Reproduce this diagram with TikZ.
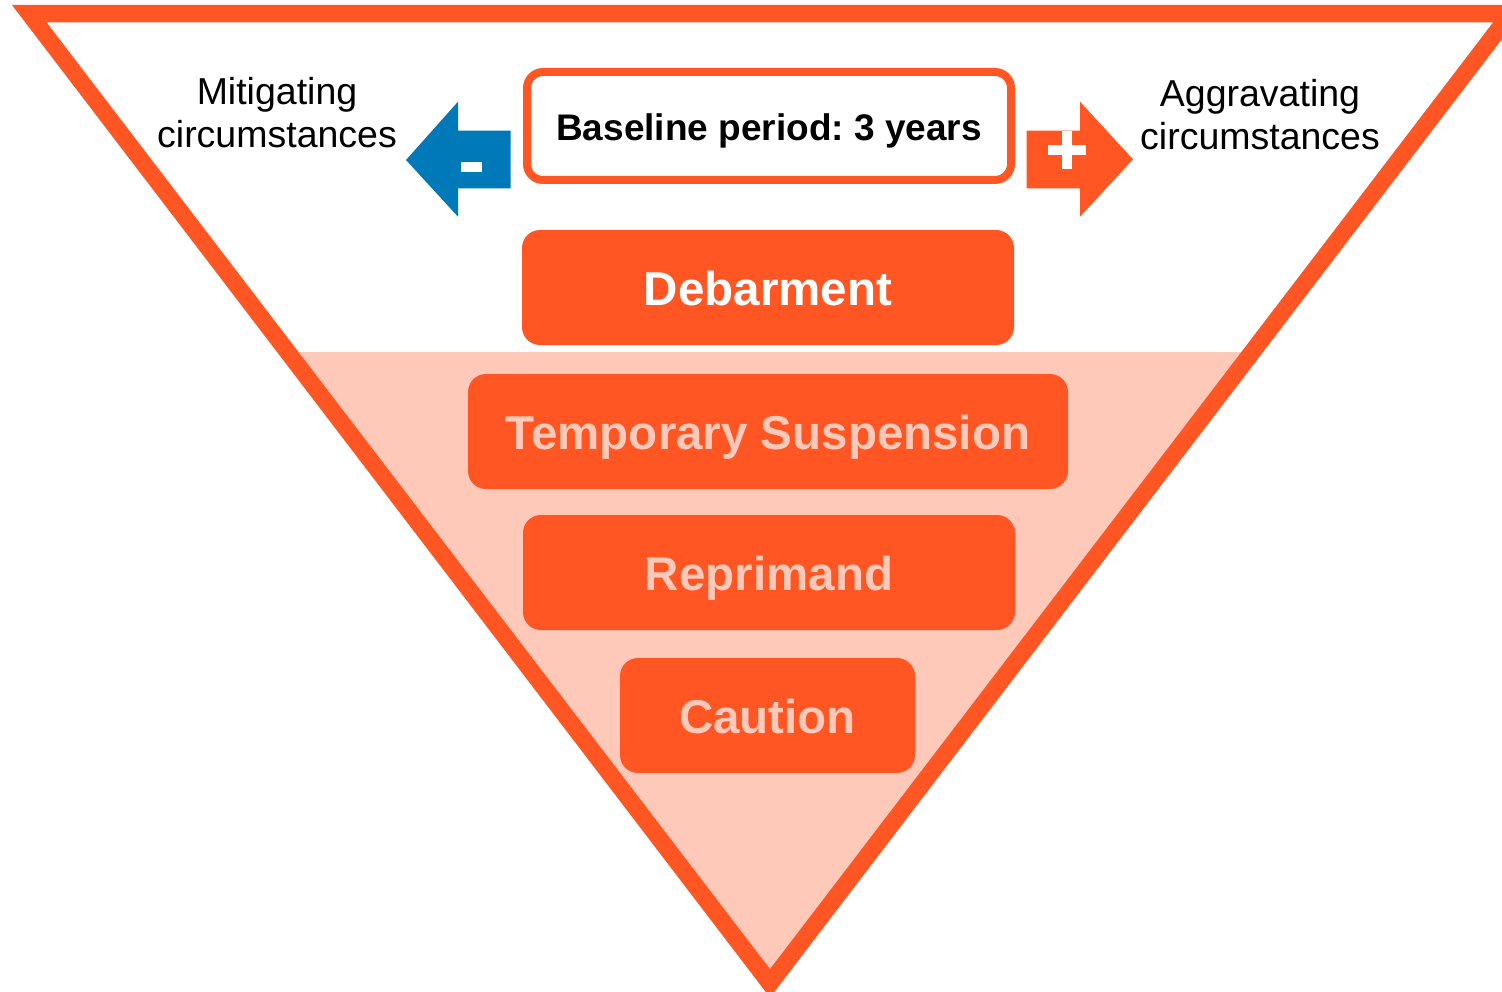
\documentclass[tikz,border=0pt]{standalone}
\usepackage{fontspec}
\setmainfont{Liberation Sans}
\frenchspacing
\definecolor{orng}{HTML}{FF5623}
\definecolor{pinkband}{HTML}{FEC9B9}
\definecolor{blu}{HTML}{0079B8}
\begin{document}
\begin{tikzpicture}[x=1pt,y=-1pt,
  level/.style={fill=orng, rounded corners=18pt, inner sep=0pt, minimum height=115pt,
     text depth=0pt, text height=36pt,
     font=\fontsize{47.5}{56}\selectfont\bfseries, text=pinkband},
  sidetext/.style={align=center, font=\fontsize{37.5}{43}\selectfont, text=black, inner sep=0pt}]
\useasboundingbox (0,0) rectangle (1502,992);
\fill[white] (0,0) rectangle (1502,992);
% pink band
\fill[pinkband] (298.5,352) -- (1241.3,352) -- (770,969) -- cycle;
% triangle frame
\fill[orng, even odd rule] (12,5) -- (1528,5) -- (770,997.5) -- cycle
   (46.7,22.5) -- (1493,22.5) -- (770,969) -- cycle;
% baseline box
\node[draw=orng, line width=8pt, fill=white, rounded corners=16pt, inner sep=0pt,
  minimum width=484pt, minimum height=108pt, text depth=0pt, text height=29pt,
  font=\fontsize{37}{44}\selectfont\bfseries] (base) at (769,126) {Baseline period: 3 years};
% levels
\node[level, minimum width=492pt, text=white] (deb) at (768,287.5) {Debarment};
\node[level, minimum width=600pt] (temp) at (768,431.5) {Temporary Suspension};
\node[level, minimum width=492pt] (rep) at (769,572.5) {Reprimand};
\node[level, minimum width=295pt] (cau) at (767.5,715.5) {Caution};
% side texts
\node[sidetext] (mit) at (277,113) {Mitigating\\circumstances};
\node[sidetext] (agg) at (1260,115) {Aggravating\\circumstances};
% blue arrow (minus)
\fill[blu] (510.7,130.7) -- (458,130.7) -- (458,101.7) -- (406,160) -- (458,216.7)
   -- (458,188.3) -- (510.7,188.3) -- cycle;
\fill[white] (461,161.7) rectangle (481.7,171.7);
% orange arrow (plus)
\fill[orng] (1026.7,130.7) -- (1080,130.7) -- (1080,101.7) -- (1133,159.3) -- (1080,216.7)
   -- (1080,188.3) -- (1026.7,188.3) -- cycle;
\fill[white] (1048,145) rectangle (1086,155);
\fill[white] (1062,131) rectangle (1072,169);
\end{tikzpicture}
\end{document}
